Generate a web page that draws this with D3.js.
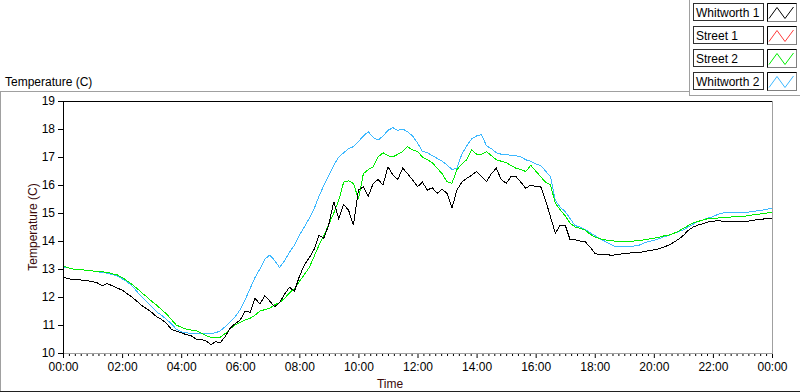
<!DOCTYPE html>
<html>
<head>
<meta charset="utf-8">
<script src="https://cdn.jsdelivr.net/npm/d3@7"></script>
<style>
  body { margin: 0; background: #fff; }
  svg text { font-family: "Liberation Sans", Arial, sans-serif; font-size: 12px; }
</style>
</head>
<body>
<script>
'use strict';

// one reading every 10 minutes, 00:00 .. 24:00 (6 per row = one hour)
let stepMinutes = 10;

let whitworthOne = [
  12.73, 12.65, 12.63, 12.62, 12.60, 12.58,
  12.55, 12.50, 12.40, 12.48, 12.40, 12.32,
  12.25, 12.12, 12.00, 11.85, 11.70, 11.58,
  11.45, 11.30, 11.20, 11.06, 10.85, 10.78,
  10.72, 10.66, 10.62, 10.50, 10.48, 10.44,
  10.30, 10.40, 10.38, 10.60, 10.90, 11.05,
  11.18, 11.50, 11.45, 11.95, 11.75, 12.05,
  11.85, 11.65, 11.80, 12.10, 12.35, 12.20,
  12.73, 13.14, 13.40, 13.70, 14.20, 14.10,
  14.60, 15.40, 14.80, 15.30, 15.10, 14.57,
  15.82, 15.94, 15.60, 16.05, 16.20, 16.00,
  16.65, 16.36, 16.20, 16.60, 16.40, 16.18,
  15.94, 16.10, 15.82, 15.90, 15.70, 15.85,
  15.70, 15.17, 15.82, 16.10, 16.24, 16.35,
  16.48, 16.30, 16.12, 16.40, 16.60, 16.20,
  16.06, 16.30, 16.30, 16.10, 15.88, 16.00,
  15.94, 15.95, 15.46, 14.87, 14.27, 14.57,
  14.57, 14.04, 14.04, 14.00, 13.98, 13.80,
  13.56, 13.50, 13.52, 13.50, 13.50, 13.52,
  13.56, 13.57, 13.58, 13.58, 13.62, 13.66,
  13.68, 13.72, 13.78, 13.85, 13.95, 14.06,
  14.20, 14.38, 14.50, 14.57, 14.62, 14.68,
  14.71, 14.72, 14.71, 14.70, 14.70, 14.69,
  14.69, 14.70, 14.74, 14.76, 14.78, 14.80,
  14.82
];

// no readings were plotted for this logger
let streetOne = [];

let streetTwo = [
  13.10, 13.05, 13.00, 12.98, 12.97, 12.95,
  12.93, 12.92, 12.90, 12.88, 12.83, 12.79,
  12.70, 12.58, 12.45, 12.31, 12.15, 12.01,
  11.85, 11.71, 11.55, 11.40, 11.20, 11.00,
  10.92, 10.85, 10.82, 10.80, 10.72, 10.62,
  10.56, 10.55, 10.57, 10.70, 10.88, 11.00,
  11.10, 11.18, 11.24, 11.35, 11.50, 11.55,
  11.60, 11.72, 11.80, 11.95, 12.15, 12.30,
  12.55, 12.80, 13.05, 13.45, 13.85, 14.20,
  14.60, 15.00, 15.45, 16.10, 16.15, 16.05,
  15.50, 16.40, 16.55, 16.65, 17.00, 17.15,
  17.05, 17.00, 17.10, 17.20, 17.37, 17.25,
  17.20, 17.00, 16.90, 16.80, 16.60, 16.40,
  16.12, 16.06, 16.55, 16.75, 16.90, 17.25,
  17.10, 17.10, 17.19, 17.05, 16.90, 16.85,
  16.80, 16.70, 16.60, 16.55, 16.48, 16.70,
  16.50, 16.30, 16.10, 16.00, 15.35, 15.11,
  14.90, 14.63, 14.50, 14.45, 14.40, 14.25,
  14.15, 14.08, 14.04, 14.02, 14.00, 14.00,
  13.98, 13.98, 14.00, 14.02, 14.04, 14.07,
  14.10, 14.13, 14.18, 14.21, 14.27, 14.35,
  14.45, 14.55, 14.65, 14.70, 14.75, 14.80,
  14.81, 14.82, 14.83, 14.85, 14.86, 14.87,
  14.87, 14.90, 14.93, 14.95, 14.98, 15.00,
  15.01
];

let whitworthTwo = [
  13.08, 13.05, 13.00, 12.98, 12.97, 12.95,
  12.93, 12.90, 12.88, 12.85, 12.80, 12.75,
  12.65, 12.55, 12.40, 12.20, 12.00, 11.83,
  11.65, 11.47, 11.35, 11.20, 11.05, 10.85,
  10.76, 10.72, 10.70, 10.70, 10.70, 10.70,
  10.70, 10.72, 10.80, 10.95, 11.12, 11.30,
  11.55, 11.90, 12.30, 12.70, 13.00, 13.35,
  13.50, 13.30, 13.05, 13.30, 13.60, 13.85,
  14.20, 14.50, 14.80, 15.15, 15.60, 16.00,
  16.35, 16.70, 17.00, 17.15, 17.30, 17.37,
  17.55, 17.75, 17.90, 17.70, 17.60, 17.75,
  17.95, 18.05, 17.95, 18.00, 17.90, 17.75,
  17.50, 17.20, 17.15, 17.05, 16.95, 16.85,
  16.72, 16.55, 16.60, 17.10, 17.40, 17.65,
  17.75, 17.80, 17.40, 17.30, 17.15, 17.10,
  17.10, 17.05, 17.05, 17.00, 16.90, 16.85,
  16.75, 16.70, 16.50, 16.30, 15.45, 15.20,
  15.05, 14.80, 14.55, 14.50, 14.42, 14.30,
  14.20, 14.08, 14.00, 13.90, 13.82, 13.80,
  13.80, 13.80, 13.82, 13.85, 13.93, 13.98,
  14.02, 14.08, 14.15, 14.20, 14.27, 14.33,
  14.40, 14.50, 14.60, 14.70, 14.75, 14.82,
  14.87, 14.95, 15.00, 15.02, 15.02, 15.02,
  15.03, 15.03, 15.05, 15.08, 15.10, 15.14,
  15.15
];

let seriesNames = ['Whitworth 1', 'Street 1', 'Street 2', 'Whitworth 2'];
let seriesColors = ['#000000', '#ff3c3c', '#00ee00', '#3cb8ff'];

let yTicks = [10, 11, 12, 13, 14, 15, 16, 17, 18, 19];
let xTickMinutes = [0, 120, 240, 360, 480, 600, 720, 840, 960, 1080, 1200, 1320, 1440];
let xTickLabels = ['00:00', '02:00', '04:00', '06:00', '08:00', '10:00', '12:00',
  '14:00', '16:00', '18:00', '20:00', '22:00', '00:00'];

let width = 800;
let height = 392;
let plotLeft = 63, plotRight = 772, plotTop = 101, plotBottom = 353;

let svg = d3.select('body').append('svg')
    .attr('width', width)
    .attr('height', height);

let x = d3.scaleLinear().domain([0, 1440]).range([plotLeft, plotRight]);
let y = d3.scaleLinear().domain([10, 19]).range([plotBottom, plotTop]);

// panel frame
let hline = (x1, x2, yy, c) => svg.append('line')
    .attr('x1', x1).attr('x2', x2).attr('y1', yy + 0.5).attr('y2', yy + 0.5)
    .attr('stroke', c);
let vline = (xx, y1, y2, c) => svg.append('line')
    .attr('x1', xx + 0.5).attr('x2', xx + 0.5).attr('y1', y1).attr('y2', y2)
    .attr('stroke', c);

hline(0, 689, 91, '#a0a0a0');
vline(0, 91, 392, '#a0a0a0');
hline(0, 800, 391, '#202020');
vline(689, 0, 96, '#a0a0a0');
hline(689, 800, 95, '#a0a0a0');

svg.append('text')
    .attr('x', 5).attr('y', 86)
    .attr('fill', '#000')
    .text('Temperature (C)');

// plot lines
let line = d3.line()
    .x((d, i) => x(i * stepMinutes))
    .y(d => y(d));

let plots = [
  { values: whitworthTwo, color: seriesColors[3] },
  { values: streetTwo, color: seriesColors[2] },
  { values: streetOne, color: seriesColors[1] },
  { values: whitworthOne, color: seriesColors[0] }
];

svg.append('clipPath').attr('id', 'plotclip')
  .append('rect')
    .attr('x', plotLeft).attr('y', plotTop)
    .attr('width', plotRight - plotLeft).attr('height', plotBottom - plotTop);

svg.append('g')
    .attr('clip-path', 'url(#plotclip)')
  .selectAll('path')
  .data(plots)
  .enter().append('path')
    .attr('d', d => d.values.length ? line(d.values) : null)
    .attr('fill', 'none')
    .attr('stroke', d => d.color)
    .attr('stroke-width', 1)
    .attr('shape-rendering', 'crispEdges');

// axes
let minorTicks = d3.range(0, 1441, 12).filter(m => m % 120 !== 0);

svg.append('g')
    .attr('transform', `translate(0,${plotBottom})`)
    .call(d3.axisBottom(x).tickValues(minorTicks).tickSize(3).tickFormat(''))
    .call(g => g.select('.domain').remove());

svg.append('g')
    .attr('transform', `translate(0,${plotBottom})`)
    .call(d3.axisBottom(x).tickValues(xTickMinutes).tickSize(5).tickPadding(4)
      .tickFormat((d, i) => xTickLabels[i]))
    .call(g => g.select('.domain').remove())
    .call(g => g.selectAll('text')
      .style('font-family', '"Liberation Sans", Arial, sans-serif')
      .style('font-size', '12px')
      .attr('fill', '#000'));

svg.append('g')
    .attr('transform', `translate(${plotLeft},0)`)
    .call(d3.axisLeft(y).tickValues(yTicks).tickSize(5).tickPadding(3))
    .call(g => g.select('.domain').remove())
    .call(g => g.selectAll('text')
      .style('font-family', '"Liberation Sans", Arial, sans-serif')
      .style('font-size', '12px')
      .attr('fill', '#000'));

// plot area border: dark top/left, light bottom/right
hline(plotLeft, plotRight + 1, plotTop, '#000');
vline(plotLeft, plotTop, plotBottom + 1, '#000');
vline(plotRight, plotTop, plotBottom + 1, '#a0a0a0');
hline(plotLeft + 1, plotRight + 1, plotBottom, '#a0a0a0');

svg.append('text')
    .attr('transform', 'translate(37,227) rotate(-90)')
    .attr('text-anchor', 'middle')
    .attr('fill', '#3a0a0a')
    .text('Temperature (C)');

svg.append('text')
    .attr('x', 390).attr('y', 388)
    .attr('text-anchor', 'middle')
    .attr('fill', '#3a0a0a')
    .text('Time');

// legend
let zig = d3.line();
let legend = svg.selectAll('g.legend')
  .data(seriesNames)
  .enter().append('g')
    .attr('class', 'legend')
    .attr('transform', (d, i) => `translate(0,${3 + i * 23})`);

legend.append('rect')
    .attr('x', 693.5).attr('y', 0.5)
    .attr('width', 70).attr('height', 17)
    .attr('fill', '#fff')
    .attr('stroke', '#303030');

legend.append('text')
    .attr('x', 696).attr('y', 14)
    .attr('fill', '#000')
    .text(d => d);

legend.append('rect')
    .attr('x', 767.5).attr('y', 0.5)
    .attr('width', 29).attr('height', 18)
    .attr('fill', '#fff')
    .attr('stroke', '#808080');

legend.append('path')
    .attr('d', 'M767.5,18.5V0.5H796.5')
    .attr('fill', 'none')
    .attr('stroke', '#000');

legend.append('path')
    .attr('d', zig([[769, 15.5], [777, 4.5], [785, 15.5], [793.5, 4]]))
    .attr('fill', 'none')
    .attr('stroke', (d, i) => seriesColors[i])
    .attr('stroke-width', 1);
</script>
</body>
</html>
